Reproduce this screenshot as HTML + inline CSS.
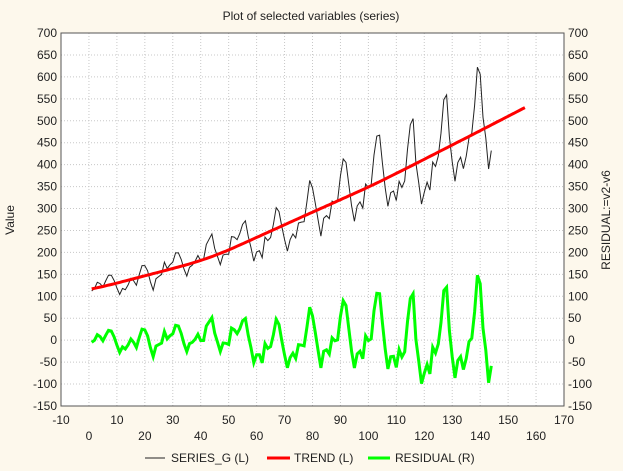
<!DOCTYPE html>
<html><head><meta charset="utf-8"><style>
body{margin:0;background:#fdf8ec;}
svg{display:block;font-family:"Liberation Sans",Arial,sans-serif;}
</style></head><body>
<svg id="s" width="623" height="471" xmlns="http://www.w3.org/2000/svg">
<rect width="623" height="471" fill="#fdf8ec"/>
<rect x="61" y="33" width="503" height="373" fill="#fff"/>
<g id="grid" stroke="#c8c8c8" stroke-width="1" stroke-dasharray="1,2"></g>
<rect x="61" y="33" width="503" height="373" fill="none" stroke="#555" stroke-width="1"/>
<g id="ticks" font-size="12" fill="#222"></g>
<text x="311" y="20" font-size="12" text-anchor="middle" fill="#222">Plot of selected variables (series)</text>
<text transform="translate(14,220) rotate(-90)" font-size="12" text-anchor="middle" fill="#222">Value</text>
<text transform="translate(610,220) rotate(-90)" font-size="12" text-anchor="middle" fill="#222">RESIDUAL:=v2-v6</text>
<path id="ser" fill="none" stroke="#222" stroke-width="1"/>
<path id="tr" fill="none" stroke="#ff0000" stroke-width="3"/>
<path id="res" fill="none" stroke="#00ff00" stroke-width="3"/>
<g font-size="12" fill="#222">
<line x1="145" y1="458" x2="165" y2="458" stroke="#222" stroke-width="1"/>
<text x="171" y="462">SERIES_G (L)</text>
<line x1="267" y1="458" x2="290" y2="458" stroke="#f00" stroke-width="3"/>
<text x="294" y="462">TREND (L)</text>
<line x1="368" y1="458" x2="390" y2="458" stroke="#0f0" stroke-width="3"/>
<text x="395" y="462">RESIDUAL (R)</text>
</g>
</svg>
<script>
var d=[112,118,132,129,121,135,148,148,136,119,104,118,115,126,141,135,125,149,170,170,158,133,114,140,145,150,178,163,172,178,199,199,184,162,146,166,171,180,193,181,183,218,230,242,209,191,172,194,196,196,236,235,229,243,264,272,237,211,180,201,204,188,235,227,234,264,302,293,259,229,203,229,242,233,267,269,270,315,364,347,312,274,237,278,284,277,317,313,318,374,413,405,355,306,271,306,315,301,356,348,355,422,465,467,404,347,305,336,340,318,362,348,363,435,491,505,404,359,310,337,360,342,406,396,420,472,548,559,463,407,362,405,417,391,419,461,472,535,622,606,508,461,390,432];
function X(v){return 61+(v+10)*503/180;}
function Y(v){return 33+(700-v)*373/850;}
var kp=[[-40,75],[1,115],[19,145],[43,185],[79,289],[103,357],[127,435],[139,474],[156,530],[200,675]];
function L(x){for(var i=0;i<kp.length-1;i++){var a=kp[i],b=kp[i+1];if(x<=b[0])return a[1]+(x-a[0])*(b[1]-a[1])/(b[0]-a[0]);}return 675;}
var TT={};for(var x=-30;x<=190;x++)TT[x]=L(x);
for(var p=0;p<3;p++){var N={};for(var x=-30;x<=190;x++){if(x<-20||x>180){N[x]=TT[x];continue;}var sm=0;for(var k=-6;k<=6;k++)sm+=TT[x+k];N[x]=sm/13;}TT=N;}
function T(x){return TT[x];}
var g=document.getElementById('grid'),tk=document.getElementById('ticks'),h='';
for(var v=0;v<=160;v+=10)h+='<line x1="'+X(v)+'" y1="33" x2="'+X(v)+'" y2="406"/>';
for(var v=-100;v<=650;v+=50)h+='<line x1="61" y1="'+Y(v)+'" x2="564" y2="'+Y(v)+'"/>';
g.innerHTML=h;h='';
for(var v=-150;v<=700;v+=50){h+='<text x="57" y="'+(Y(v)+4)+'" text-anchor="end">'+v+'</text><text x="568" y="'+(Y(v)+4)+'">'+v+'</text>';}
for(var v=-10;v<=170;v+=20)h+='<text x="'+X(v)+'" y="424" text-anchor="middle">'+v+'</text>';
for(var v=0;v<=160;v+=20)h+='<text x="'+X(v)+'" y="440" text-anchor="middle">'+v+'</text>';
tk.innerHTML=h;
var s='',r='',t='';
for(var i=0;i<144;i++){var x=i+1;s+=(i?'L':'M')+X(x).toFixed(1)+','+Y(d[i]).toFixed(1);r+=(i?'L':'M')+X(x).toFixed(1)+','+Y(d[i]-T(x)).toFixed(1);}
for(var x=1;x<=156;x++)t+=(x>1?'L':'M')+X(x).toFixed(1)+','+Y(T(x)).toFixed(1);
document.getElementById('ser').setAttribute('d',s);
document.getElementById('res').setAttribute('d',r);
document.getElementById('tr').setAttribute('d',t);
</script>
</body></html>
